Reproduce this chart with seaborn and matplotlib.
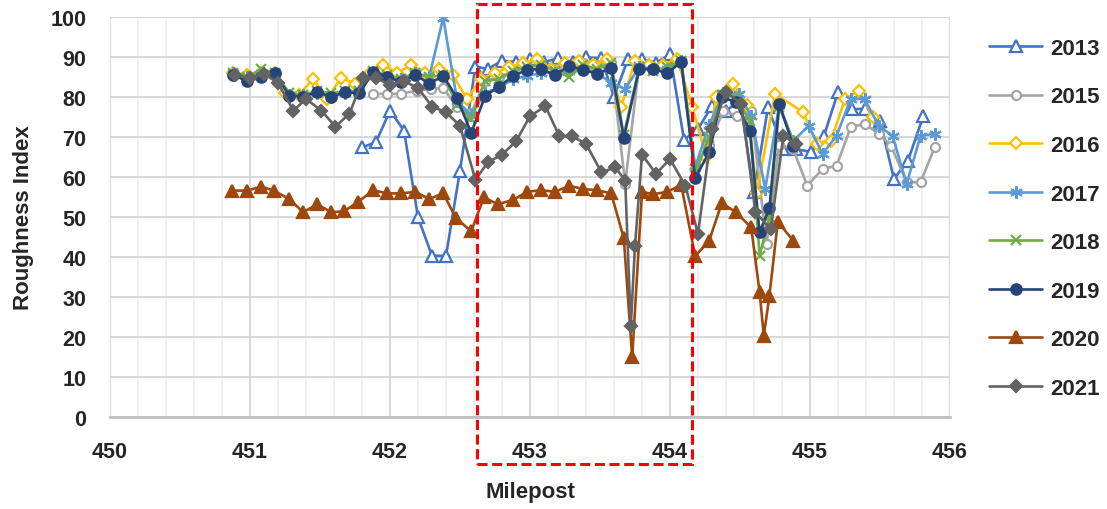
import matplotlib
matplotlib.use("Agg")
import matplotlib.pyplot as plt
import seaborn as sns
from matplotlib.patches import Rectangle
from matplotlib.ticker import MultipleLocator

sns.set_theme(style="white")
plt.rcParams['font.family'] = ['Liberation Sans', 'DejaVu Sans']
plt.rcParams['font.weight'] = 'bold'

# milepost positions shared by 2018 / 2019
mp_main = [450.88, 450.98, 451.08, 451.18, 451.28, 451.38, 451.48, 451.58, 451.68, 451.78,
           451.88, 451.98, 452.08, 452.18, 452.28, 452.38, 452.48, 452.58, 452.68, 452.78,
           452.88, 452.98, 453.08, 453.18, 453.28, 453.38, 453.48, 453.58, 453.67, 453.78,
           453.88, 453.98, 454.08, 454.18, 454.28, 454.37, 454.47, 454.57, 454.64, 454.71,
           454.78, 454.88]

x13 = [451.80, 451.90, 452.00, 452.10, 452.20, 452.30, 452.40, 452.50, 452.61, 452.70,
       452.80, 452.90, 453.00, 453.10, 453.20, 453.31, 453.40, 453.51, 453.60, 453.70,
       453.80, 453.90, 454.00, 454.10, 454.20, 454.30, 454.40, 454.50, 454.60, 454.70,
       454.81, 454.90, 455.01, 455.10, 455.20, 455.30, 455.39, 455.50, 455.60, 455.70,
       455.81]
y13 = [67.4, 68.7, 76.6, 71.6, 49.9, 40.3, 40.3, 61.6, 87.6, 87.0,
       89.1, 88.7, 89.5, 88.7, 89.7, 88.7, 89.9, 89.7, 80.0, 89.5,
       89.5, 88.5, 90.7, 69.3, 72.0, 77.8, 76.6, 79.0, 56.2, 77.4,
       67.0, 67.0, 66.2, 70.3, 81.2, 77.0, 77.0, 74.1, 59.5, 64.1, 75.3]

x15 = [451.88, 451.98, 452.08, 452.19, 452.29, 452.38, 452.48, 452.58, 452.68, 452.78,
       452.88, 452.98, 453.08, 453.18, 453.28, 453.38, 453.48, 453.58, 453.68, 453.78,
       453.88, 453.98, 454.08, 454.18, 454.28, 454.38, 454.48, 454.58, 454.69, 454.78,
       454.88, 454.98, 455.09, 455.19, 455.29, 455.39, 455.49, 455.58, 455.69, 455.79,
       455.89]
y15 = [80.8, 80.8, 80.8, 81.6, 82.0, 82.3, 77.4, 76.0, 84.0, 85.0,
       86.5, 87.5, 88.0, 87.0, 88.0, 88.5, 88.0, 88.5, 58.3, 88.0,
       87.5, 87.5, 88.5, 62.0, 68.0, 76.5, 75.3, 76.6, 43.3, 68.0,
       67.0, 57.8, 62.0, 62.8, 72.4, 73.3, 70.8, 67.8, 58.7, 58.7, 67.4]

x16 = [450.88, 450.98, 451.08, 451.18, 451.25, 451.35, 451.45, 451.55, 451.65, 451.75,
       451.85, 451.95, 452.05, 452.15, 452.25, 452.35, 452.45, 452.55, 452.65, 452.75,
       452.85, 452.95, 453.05, 453.15, 453.25, 453.35, 453.45, 453.55, 453.65, 453.75,
       453.85, 453.95, 454.05, 454.16, 454.26, 454.33, 454.45, 454.55, 454.62, 454.75,
       454.95, 455.05, 455.15, 455.25, 455.35, 455.45]
y16 = [86.0, 85.5, 86.0, 86.0, 81.0, 80.5, 84.5, 79.5, 84.8, 83.3,
       85.8, 87.9, 86.1, 87.9, 86.1, 87.0, 85.4, 79.5, 84.5, 86.0,
       87.5, 88.5, 89.5, 87.0, 88.5, 89.0, 88.0, 89.5, 77.5, 89.0,
       88.0, 88.0, 89.5, 77.4, 65.0, 80.0, 83.3, 78.0, 56.0, 80.8,
       76.2, 68.3, 69.1, 79.5, 81.6, 74.9]

x17 = [450.88, 450.98, 451.08, 451.18, 451.28, 451.38, 451.48, 451.58, 451.68, 451.78,
       451.88, 451.98, 452.08, 452.18, 452.28, 452.38, 452.48, 452.58, 452.68, 452.78,
       452.88, 452.98, 453.08, 453.18, 453.28, 453.38, 453.48, 453.58, 453.68, 453.78,
       453.88, 453.98, 454.08, 454.18, 454.28, 454.38, 454.49, 454.58, 454.68, 454.78,
       454.88, 454.99, 455.09, 455.19, 455.29, 455.39, 455.49, 455.59, 455.69, 455.79,
       455.89]
y17 = [86.0, 85.0, 86.0, 86.0, 80.5, 80.5, 81.0, 80.0, 81.0, 81.5,
       86.0, 85.0, 84.5, 86.0, 85.0, 99.8, 79.0, 75.5, 81.0, 82.4,
       84.5, 85.3, 86.0, 86.0, 86.5, 87.0, 86.0, 83.5, 82.0, 87.5,
       87.0, 87.0, 89.0, 62.5, 73.0, 81.0, 80.8, 75.3, 57.0, 78.0,
       69.0, 72.8, 65.8, 70.3, 79.5, 79.5, 72.8, 70.3, 58.3, 70.3, 70.8]

y18 = [86.0, 85.0, 87.0, 86.0, 81.0, 80.5, 81.5, 81.0, 81.5, 81.5,
       86.5, 85.5, 84.5, 86.0, 85.0, 85.5, 78.0, 74.5, 84.0, 84.5,
       86.5, 87.5, 88.0, 86.5, 85.0, 88.0, 87.0, 88.5, 70.5, 87.5,
       86.5, 87.5, 89.0, 61.0, 70.0, 80.5, 80.0, 74.0, 40.3, 50.0,
       77.5, 69.0]

y19 = [85.6, 83.9, 85.0, 86.0, 80.3, 80.1, 81.2, 80.1, 81.2, 80.9,
       86.3, 85.1, 83.7, 85.6, 83.3, 85.3, 79.7, 71.0, 80.3, 82.6,
       85.3, 86.8, 87.0, 85.5, 87.8, 86.8, 85.8, 87.2, 69.8, 87.0,
       87.0, 85.9, 88.8, 59.8, 66.2, 80.0, 78.7, 71.6, 46.2, 52.2,
       78.3, 67.8]

x20 = [450.87, 450.98, 451.08, 451.17, 451.28, 451.38, 451.48, 451.58, 451.67, 451.77,
       451.88, 451.98, 452.08, 452.18, 452.28, 452.38, 452.47, 452.58, 452.67, 452.77,
       452.88, 452.98, 453.08, 453.18, 453.28, 453.38, 453.48, 453.58, 453.67, 453.73,
       453.80, 453.88, 453.98, 454.08, 454.18, 454.28, 454.37, 454.47, 454.58, 454.64,
       454.67, 454.71, 454.77, 454.88]
y20 = [56.6, 56.6, 57.6, 56.6, 54.5, 51.2, 53.2, 51.2, 51.4, 53.7,
       56.7, 55.9, 55.9, 56.3, 54.5, 55.9, 49.8, 46.4, 54.9, 53.2,
       54.3, 56.3, 56.7, 56.3, 57.8, 57.0, 56.7, 55.9, 44.7, 14.9,
       56.3, 55.7, 56.3, 58.0, 40.2, 44.1, 53.5, 51.2, 47.4, 31.2,
       20.3, 30.3, 48.8, 44.1]

x21 = [450.89, 451.00, 451.10, 451.20, 451.31, 451.40, 451.51, 451.61, 451.71, 451.81,
       451.90, 452.00, 452.10, 452.20, 452.30, 452.40, 452.50, 452.61, 452.70, 452.80,
       452.90, 453.00, 453.11, 453.21, 453.30, 453.40, 453.51, 453.61, 453.68, 453.72,
       453.75, 453.80, 453.90, 454.00, 454.11, 454.20, 454.30, 454.40, 454.51, 454.61,
       454.72, 454.81, 454.90]
y21 = [85.6, 84.8, 85.8, 83.5, 76.6, 79.5, 76.6, 72.6, 75.8, 84.8,
       84.8, 83.0, 83.9, 82.3, 77.6, 76.2, 72.8, 59.3, 63.7, 65.6,
       68.9, 75.2, 77.7, 70.2, 70.2, 68.3, 61.2, 62.4, 59.1, 22.8,
       42.8, 65.6, 60.8, 64.5, 57.8, 45.8, 72.0, 81.2, 78.3, 51.2,
       47.0, 70.3, 68.3]

years = ['2013', '2015', '2016', '2017', '2018', '2019', '2020', '2021']
colors = ['#4472C4', '#A5A5A5', '#FFC000', '#5B9BD5', '#70AD47', '#264478', '#9E480E', '#636363']


def main():
    series = [(x13, y13), (x15, y15), (x16, y16), (x17, y17),
              (mp_main, y18), (mp_main, y19), (x20, y20), (x21, y21)]
    # marker, size, hollow?
    styles = [('^', 8, True), ('o', 6.5, True), ('D', 6, True), ((6, 2, 0), 9, False),
              ('x', 7.5, False), ('o', 7.5, False), ('^', 8, False), ('D', 6.5, False)]

    fig = plt.figure(figsize=(11.07, 5.10), dpi=100)
    ax = fig.add_axes([110 / 1107, 1 - 418 / 510, 840 / 1107, 400 / 510])

    for (xs, ys), yr, col, (mk, ms, hollow) in zip(series, years, colors, styles):
        sns.lineplot(x=xs, y=ys, ax=ax, sort=False, estimator=None, color=col,
                     linewidth=1.9, marker=mk, markersize=ms,
                     markerfacecolor='white' if hollow else col,
                     markeredgecolor=col, markeredgewidth=1.6, label=yr)

    ax.set_xlim(450, 456)
    ax.set_ylim(0, 100)
    ax.xaxis.set_major_locator(MultipleLocator(1))
    ax.xaxis.set_minor_locator(MultipleLocator(0.2))
    ax.yaxis.set_major_locator(MultipleLocator(10))
    ax.grid(which='major', color='#D9D9D9', linewidth=1.5)
    ax.grid(which='minor', axis='x', color='#F0F0F0', linewidth=1.3)
    ax.set_axisbelow(True)
    for side in ['left', 'top', 'right']:
        ax.spines[side].set_visible(False)
    ax.spines['bottom'].set_color('#BFBFBF')
    ax.spines['bottom'].set_linewidth(2)
    ax.tick_params(which='both', length=0, labelsize=15.5)
    ax.tick_params(axis='x', pad=17)
    ax.tick_params(axis='y', pad=17)
    for lab in ax.get_xticklabels() + ax.get_yticklabels():
        lab.set_fontweight('bold')

    ax.set_xlabel("Milepost", fontsize=16, fontweight='bold', labelpad=14)
    ax.set_ylabel("Roughness Index", fontsize=16, fontweight='bold', labelpad=12)

    # highlighted section
    ax.add_patch(Rectangle((452.62, -11.75), 1.54, 115.0, fill=False, edgecolor='#FF0000',
                           linewidth=2.2, linestyle=(0, (3.3, 1.5)), clip_on=False, zorder=10))

    ax.legend(loc='upper left', bbox_to_anchor=(980 / 1107, 1 - 30 / 510),
              bbox_transform=fig.transFigure, frameon=False, handlelength=2.4,
              labelspacing=1.24, handletextpad=0.35, borderaxespad=0,
              prop={'weight': 'bold', 'size': 16})

    fig.savefig("out.png", dpi=100)


if __name__ == '__main__':
    main()
